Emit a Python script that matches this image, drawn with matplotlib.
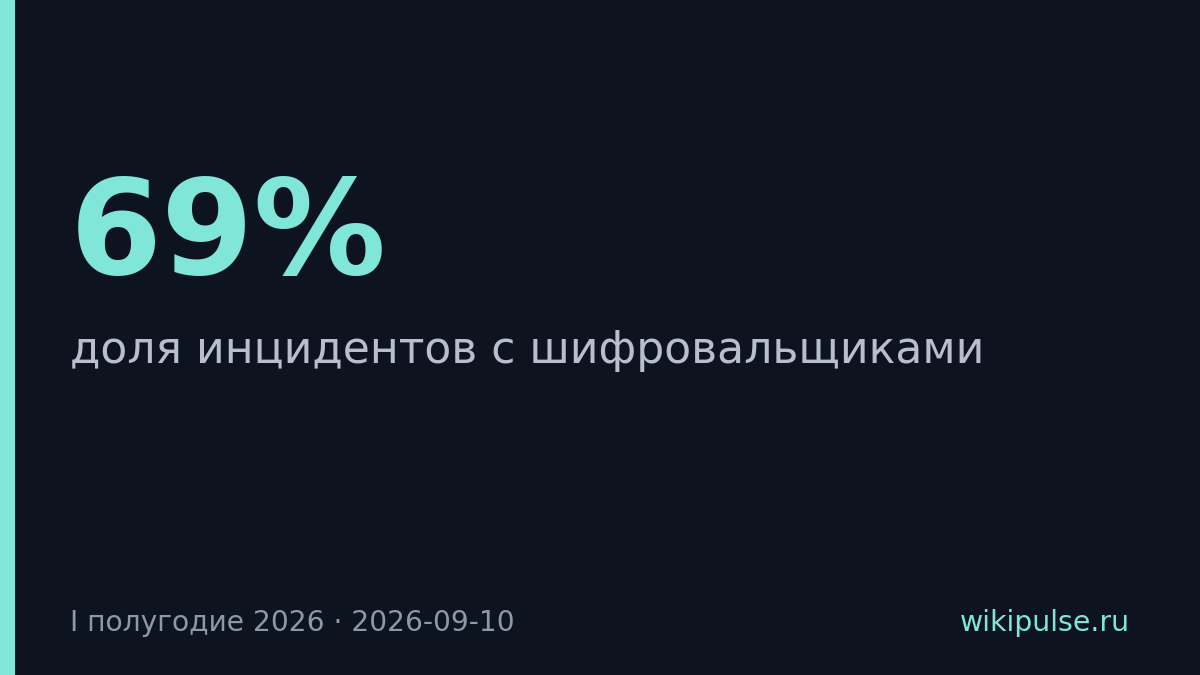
import matplotlib
matplotlib.use("Agg")
import matplotlib.pyplot as plt
from matplotlib.patches import Rectangle

W, H = 1200, 675

value_text = "69%"
caption = "доля инцидентов с шифровальщиками"
period = "I полугодие 2026 · 2026-09-10"
source = "wikipulse.ru"

bg = "#0d1420"
accent = "#7fe6d8"

fig = plt.figure(figsize=(W / 100, H / 100), dpi=100)
fig.patch.set_facecolor(bg)

# accent strip on the left
fig.patches.append(Rectangle((0, 0), 15 / W, 1, transform=fig.transFigure,
                             facecolor=accent, edgecolor="none"))

def fy(px):
    return 1 - px / H

fig.text(70 / W, fy(274), value_text, color=accent, fontsize=95.3,
         fontweight="bold", family="DejaVu Sans", va="baseline", ha="left")
fig.text(70 / W, fy(363), caption, color="#b8bdd0", fontsize=31.75,
         family="DejaVu Sans", va="baseline", ha="left")
fig.text(70 / W, fy(631), period, color="#8f98ab", fontsize=20.25,
         family="DejaVu Sans", va="baseline", ha="left")
fig.text(1130 / W, fy(631), source, color=accent, fontsize=20.4,
         family="DejaVu Sans", va="baseline", ha="right")

fig.savefig("out.png", dpi=100, facecolor=bg)
